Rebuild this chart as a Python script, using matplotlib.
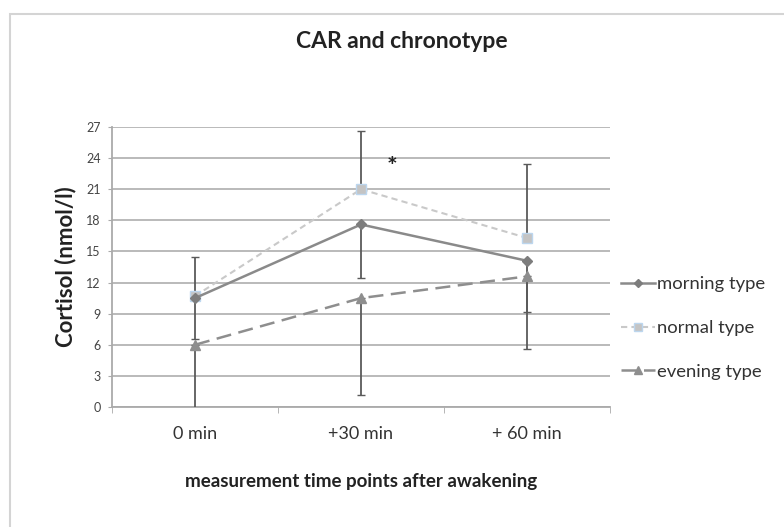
import matplotlib.pyplot as plt
from matplotlib.patches import Rectangle
from matplotlib.lines import Line2D

plt.rcParams["font.family"] = ["Lato", "DejaVu Sans"]

time_points = ["0 min", "+30 min", "+ 60 min"]
morning = [10.5, 17.6, 14.1]
morning_err_down = [3.9, 5.2, 4.9]
normal = [10.7, 21.0, 16.3]
normal_err_up = [3.8, 5.6, 7.1]
evening = [6.0, 10.5, 12.6]
evening_err_down = [6.5, 9.3, 7.0]
y_ticks = [0, 3, 6, 9, 12, 15, 18, 21, 24, 27]

fig = plt.figure(figsize=(7.84, 5.27), dpi=100)
fig.patches.append(Rectangle((10 / 784, -0.1), 1.2, 1 - 14 / 527 + 0.1,
                             transform=fig.transFigure, fill=False,
                             edgecolor="#d4d4d4", linewidth=1.5))
ax = fig.add_axes([112 / 784, 1 - 407 / 527, 498 / 784, 280 / 527])

x = list(range(len(time_points)))
err_col = "#5a5a5a"

# error bars (one-sided, as in the original)
ax.errorbar(x, normal, yerr=[[0] * 3, normal_err_up], fmt="none",
            ecolor=err_col, elinewidth=1.3, capsize=3, zorder=3)
ax.errorbar(x, morning, yerr=[morning_err_down, [0] * 3], fmt="none",
            ecolor=err_col, elinewidth=1.3, capsize=3, zorder=3)
ax.errorbar(x, evening, yerr=[evening_err_down, [0] * 3], fmt="none",
            ecolor=err_col, elinewidth=1.3, capsize=3, zorder=3)

# series
normal_style = dict(color="#c9c9c9", linestyle=(0, (3, 2)), linewidth=1.5,
                    marker="s", markerfacecolor="#c4c4c4",
                    markeredgecolor="#bcd6ee", markeredgewidth=1)
morning_style = dict(color="#8a8a8a", linestyle="-", linewidth=1.8,
                     marker="D", markerfacecolor="#7d7d7d",
                     markeredgecolor="#7d7d7d")
evening_style = dict(color="#8e8e8e", linestyle=(0, (6, 3)), linewidth=1.8,
                     marker="^", markerfacecolor="#8e8e8e",
                     markeredgecolor="#8e8e8e")

ax.plot(x, normal, markersize=7, zorder=4, **normal_style)
ax.plot(x, morning, markersize=5, zorder=5, **morning_style)
ax.plot(x, evening, markersize=7, zorder=5, **evening_style)

ax.text(1.19, 23.1, "*", fontsize=18, fontweight="bold", ha="center",
        va="center", color="#222222")

ax.set_ylim(0, 27)
ax.set_yticks(y_ticks)
ax.set_xlim(-0.5, 2.5)
ax.set_xticks(x)
ax.set_xticklabels(time_points, fontsize=13, color="#333333")
ax.set_xticks([-0.5, 0.5, 1.5, 2.5], minor=True)
ax.tick_params(axis="x", which="major", length=0, pad=14)
ax.tick_params(axis="x", which="minor", length=4, color="#aaaaaa",
               direction="out")
ax.tick_params(axis="y", labelsize=9, colors="#444444", length=3,
               color="#aaaaaa", pad=5)
ax.yaxis.grid(True, color="#b4b4b4", linewidth=1.3)
ax.set_axisbelow(True)
for s in ["top", "right"]:
    ax.spines[s].set_visible(False)
for s in ["left", "bottom"]:
    ax.spines[s].set_color("#aaaaaa")
    ax.spines[s].set_linewidth(1.3)

ax.set_ylabel("Cortisol (nmol/l)", fontsize=16, fontweight="bold",
              color="#222222")
ax.yaxis.set_label_coords((76 - 112) / 498, 0.5)
ax.set_xlabel("measurement time points after awakening", fontsize=13.5,
              fontweight="bold", color="#222222", labelpad=22)
fig.text(402 / 784, 1 - 42 / 527, "CAR and chronotype", fontsize=16.5,
         fontweight="bold", ha="center", va="center", color="#222222")

handles = [
    Line2D([], [], markersize=4, **morning_style),
    Line2D([], [], markersize=6, **normal_style),
    Line2D([], [], markersize=6, **evening_style),
]
fig.legend(handles, ["morning type", "normal type", "evening type"],
           loc="center left", bbox_to_anchor=(604 / 784, 1 - 328 / 527),
           frameon=False, fontsize=13.3, handlelength=1.85, handletextpad=0.1,
           labelspacing=1.5, labelcolor="#333333")

fig.savefig("out.png", dpi=100)
